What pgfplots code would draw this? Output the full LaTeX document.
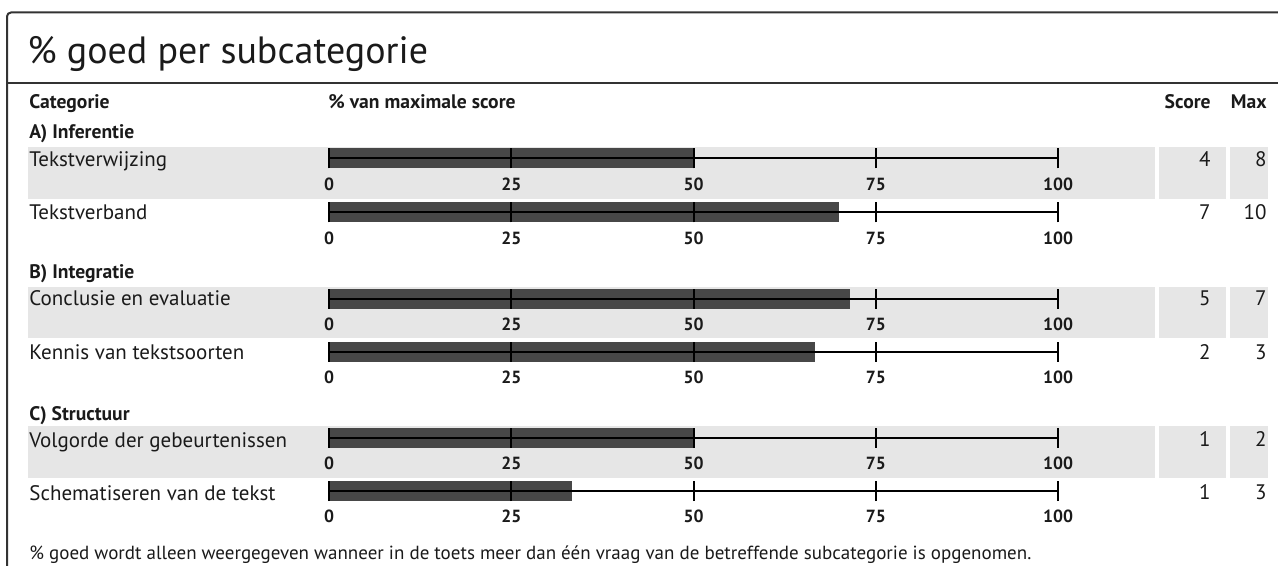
\documentclass[border=0pt]{standalone}
\usepackage{fontspec}
\setmainfont{PT Sans}
\usepackage{pgfplots}
\pgfplotsset{compat=1.18}
\definecolor{band}{HTML}{E6E6E6}
\definecolor{barc}{HTML}{474747}
\definecolor{txt}{HTML}{1A1A1A}
\definecolor{framec}{HTML}{333333}
\pgfplotsset{rowax/.style={
  scale only axis, width=364.5pt, height=10pt,
  xmin=0, xmax=100, ymin=-1, ymax=1,
  axis x line*=middle, axis y line=none,
  axis line style={line width=1pt, black},
  xtick={0,25,50,75,100},
  major tick length=10pt, tick align=center,
  every tick/.style={line width=1pt, black},
  hide obscured x ticks=false,
  /pgf/number format/assume math mode=true,
  xticklabel style={font=\fontsize{8.8}{10}\selectfont\bfseries, text=txt, anchor=base, yshift=-10.8pt},
  axis on top, anchor=origin, clip=false,
}}
\newcommand{\rowbar}[2]{%
  \begin{axis}[rowax, at={(164.5pt,#1)}]
    \addplot[xbar, fill=barc, draw=none, bar width=10pt] coordinates {(#2,0)};
  \end{axis}}
\begin{document}
\begin{tikzpicture}[x=0.5pt,y=-0.5pt]
\useasboundingbox (0,0) rectangle (1278,566);
% frame
\draw[framec, line width=1pt, rounded corners=2pt] (7,580) -- (7,12.5) -- (1300,12.5);
\draw[framec, line width=1pt] (7,83.5) -- (1300,83.5);
% bands
\foreach \a/\b in {147/199, 287/338, 426/478}{
  \fill[band] (28,\a) rectangle (1155,\b);
  \fill[band] (1159,\a) rectangle (1226,\b);
  \fill[band] (1230,\a) rectangle (1268,\b);
}
% title
\node[anchor=base west, inner sep=0, text=txt, font=\fontsize{19}{21}\selectfont] at (27,64) {\% goed per subcategorie};
% headers
\begin{scope}[every node/.style={inner sep=0, text=txt, font=\fontsize{10.5}{12}\selectfont}]
\node[anchor=base west, font=\fontsize{9.8}{11}\selectfont\bfseries] at (29,109) {Categorie};
\node[anchor=base west, font=\fontsize{9.8}{11}\selectfont\bfseries] at (328,109) {\% van maximale score};
\node[anchor=base east, font=\fontsize{9.8}{11}\selectfont\bfseries] at (1211,109) {Score};
\node[anchor=base east, font=\fontsize{9.8}{11}\selectfont\bfseries] at (1267,109) {Max};
\node[anchor=base west, font=\fontsize{9.8}{11}\selectfont\bfseries] at (29,139) {A) Inferentie};
\node[anchor=base west, font=\fontsize{9.8}{11}\selectfont\bfseries] at (29,279) {B) Integratie};
\node[anchor=base west, font=\fontsize{9.8}{11}\selectfont\bfseries] at (29,420) {C) Structuur};
\node[anchor=base west] at (29,167) {Tekstverwijzing};
\node[anchor=base west] at (29,220) {Tekstverband};
\node[anchor=base west] at (29,306) {Conclusie en evaluatie};
\node[anchor=base west] at (29,359) {Kennis van tekstsoorten};
\node[anchor=base west] at (29,447) {Volgorde der gebeurtenissen};
\node[anchor=base west] at (29,500) {Schematiseren van de tekst};
\foreach \y/\s/\m in {167/4/8, 220/7/10, 306/5/7, 359/2/3, 446/1/2, 499/1/3}{
  \node[anchor=base east] at (1211,\y) {\s};
  \node[anchor=base east] at (1267,\y) {\m};
}
\node[anchor=base west, font=\fontsize{9.5}{11}\selectfont] at (29,559) {\% goed wordt alleen weergegeven wanneer in de toets meer dan één vraag van de betreffende subcategorie is opgenomen.};
\end{scope}
% bars
\rowbar{-79.25pt}{50}
\rowbar{-106.25pt}{70}
\rowbar{-149.5pt}{71.43}
\rowbar{-176pt}{66.67}
\rowbar{-218.75pt}{50}
\rowbar{-245.5pt}{33.33}
\end{tikzpicture}
\end{document}
